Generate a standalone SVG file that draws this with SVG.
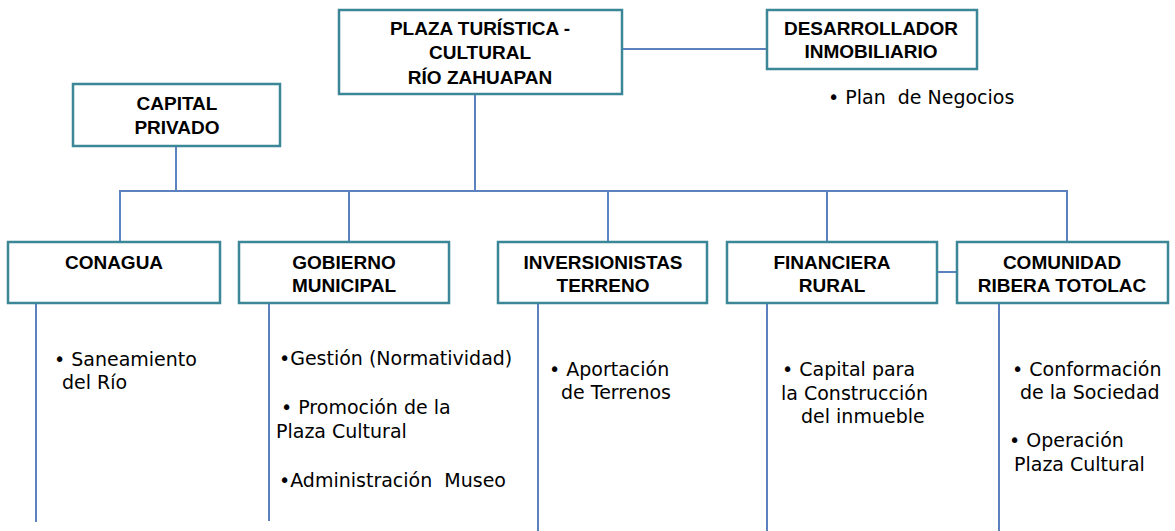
<svg xmlns="http://www.w3.org/2000/svg" width="1175" height="531" viewBox="0 0 1175 531">
<style>
.box{fill:#fff;stroke:#3b8797;stroke-width:2.5}
.ln{fill:none;stroke:#5b82bf;stroke-width:2}
.h{font-family:"Liberation Sans",Arial,sans-serif;font-weight:bold;font-size:19px;fill:#000;text-anchor:middle}
.t{font-family:"DejaVu Sans","Liberation Sans",sans-serif;font-size:19px;fill:#000}
</style>
<rect width="1175" height="531" fill="#fff"/>
<g id="connectors">
<line class="ln" x1="622" y1="49" x2="767" y2="49"/>
<line class="ln" x1="475" y1="94" x2="475" y2="191"/>
<line class="ln" x1="176" y1="146" x2="176" y2="191"/>
<line class="ln" x1="119" y1="191" x2="1068" y2="191"/>
<line class="ln" x1="120" y1="191" x2="120" y2="242"/>
<line class="ln" x1="349" y1="191" x2="349" y2="242"/>
<line class="ln" x1="608" y1="191" x2="608" y2="242"/>
<line class="ln" x1="827" y1="191" x2="827" y2="242"/>
<line class="ln" x1="1067" y1="191" x2="1067" y2="242"/>
<line class="ln" x1="937" y1="272" x2="957" y2="272"/>
<line class="ln" x1="36" y1="303" x2="36" y2="522"/>
<line class="ln" x1="269" y1="303" x2="269" y2="521"/>
<line class="ln" x1="538" y1="303" x2="538" y2="531"/>
<line class="ln" x1="767" y1="303" x2="767" y2="531"/>
<line class="ln" x1="999" y1="303" x2="999" y2="531"/>
</g>
<g id="plaza">
<rect class="box" x="339" y="10" width="283" height="84"/>
<text class="h" x="480" y="35">PLAZA TURÍSTICA -</text>
<text class="h" x="480" y="59">CULTURAL</text>
<text class="h" x="480" y="84">RÍO ZAHUAPAN</text>
</g>
<g id="desarrollador">
<rect class="box" x="767" y="10" width="210" height="59"/>
<text class="h" x="871" y="35">DESARROLLADOR</text>
<text class="h" x="871" y="58">INMOBILIARIO</text>
<text class="t" x="828" y="104">• Plan&#160; de Negocios</text>
</g>
<g id="capital-privado">
<rect class="box" x="73" y="84" width="207" height="62"/>
<text class="h" x="177" y="110">CAPITAL</text>
<text class="h" x="177" y="134">PRIVADO</text>
</g>
<g id="conagua">
<rect class="box" x="8" y="242" width="212" height="61"/>
<text class="h" x="114" y="269">CONAGUA</text>
<text class="t" x="54" y="366">• Saneamiento</text>
<text class="t" x="62" y="389">del Río</text>
</g>
<g id="gobierno">
<rect class="box" x="239" y="242" width="210" height="61"/>
<text class="h" x="344" y="269">GOBIERNO</text>
<text class="h" x="344" y="292">MUNICIPAL</text>
<text class="t" x="279" y="365">•Gestión (Normatividad)</text>
<text class="t" x="281" y="414">• Promoción de la</text>
<text class="t" x="276" y="438">Plaza Cultural</text>
<text class="t" x="279" y="487">•Administración&#160; Museo</text>
</g>
<g id="inversionistas">
<rect class="box" x="498" y="242" width="209" height="61"/>
<text class="h" x="603" y="269">INVERSIONISTAS</text>
<text class="h" x="603" y="292">TERRENO</text>
<text class="t" x="549" y="376">• Aportación</text>
<text class="t" x="561" y="399">de Terrenos</text>
</g>
<g id="financiera">
<rect class="box" x="727" y="242" width="210" height="61"/>
<text class="h" x="832" y="269">FINANCIERA</text>
<text class="h" x="832" y="292">RURAL</text>
<text class="t" x="782" y="376">• Capital para</text>
<text class="t" x="781" y="400">la Construcción</text>
<text class="t" x="801" y="423">del inmueble</text>
</g>
<g id="comunidad">
<rect class="box" x="957" y="242" width="211" height="61"/>
<text class="h" x="1062" y="269">COMUNIDAD</text>
<text class="h" x="1062" y="292">RIBERA TOTOLAC</text>
<text class="t" x="1012" y="376">• Conformación</text>
<text class="t" x="1020" y="399">de la Sociedad</text>
<text class="t" x="1009" y="447">• Operación</text>
<text class="t" x="1014" y="471">Plaza Cultural</text>
</g>
</svg>
